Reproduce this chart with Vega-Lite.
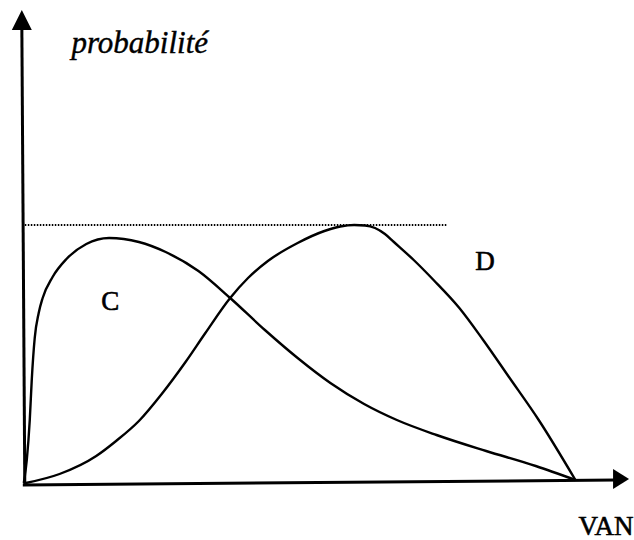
{
  "$schema": "https://vega.github.io/schema/vega-lite/v6.json",
  "width": 634,
  "height": 540,
  "padding": 0,
  "autosize": {"type": "fit", "contains": "padding"},
  "background": "white",
  "config": {"view": {"stroke": null}},
  "datasets": {
    "curves": [
      {"courbe": "C", "i": 0, "van": 1, "p": 0},
      {"courbe": "C", "i": 1, "van": 4, "p": 23},
      {"courbe": "C", "i": 2, "van": 7, "p": 63},
      {"courbe": "C", "i": 3, "van": 9, "p": 103},
      {"courbe": "C", "i": 4, "van": 12, "p": 145},
      {"courbe": "C", "i": 5, "van": 16, "p": 170},
      {"courbe": "C", "i": 6, "van": 20, "p": 185},
      {"courbe": "C", "i": 7, "van": 30, "p": 206},
      {"courbe": "C", "i": 8, "van": 44, "p": 224},
      {"courbe": "C", "i": 9, "van": 64, "p": 239},
      {"courbe": "C", "i": 10, "van": 87, "p": 245},
      {"courbe": "C", "i": 11, "van": 117, "p": 241},
      {"courbe": "C", "i": 12, "van": 144, "p": 231},
      {"courbe": "C", "i": 13, "van": 177, "p": 212},
      {"courbe": "C", "i": 14, "van": 209, "p": 185},
      {"courbe": "C", "i": 15, "van": 244, "p": 153},
      {"courbe": "C", "i": 16, "van": 277, "p": 125},
      {"courbe": "C", "i": 17, "van": 310, "p": 100},
      {"courbe": "C", "i": 18, "van": 344, "p": 79},
      {"courbe": "C", "i": 19, "van": 377, "p": 63},
      {"courbe": "C", "i": 20, "van": 417, "p": 48},
      {"courbe": "C", "i": 21, "van": 467, "p": 32},
      {"courbe": "C", "i": 22, "van": 517, "p": 17},
      {"courbe": "C", "i": 23, "van": 557, "p": 3},
      {"courbe": "D", "i": 0, "van": 3, "p": 0},
      {"courbe": "D", "i": 1, "van": 37, "p": 9},
      {"courbe": "D", "i": 2, "van": 74, "p": 27},
      {"courbe": "D", "i": 3, "van": 94, "p": 42},
      {"courbe": "D", "i": 4, "van": 117, "p": 62},
      {"courbe": "D", "i": 5, "van": 140, "p": 89},
      {"courbe": "D", "i": 6, "van": 164, "p": 121},
      {"courbe": "D", "i": 7, "van": 184, "p": 150},
      {"courbe": "D", "i": 8, "van": 209, "p": 185},
      {"courbe": "D", "i": 9, "van": 227, "p": 205},
      {"courbe": "D", "i": 10, "van": 247, "p": 222},
      {"courbe": "D", "i": 11, "van": 277, "p": 240},
      {"courbe": "D", "i": 12, "van": 304, "p": 252},
      {"courbe": "D", "i": 13, "van": 320, "p": 256.5},
      {"courbe": "D", "i": 14, "van": 334, "p": 258},
      {"courbe": "D", "i": 15, "van": 345, "p": 257.5},
      {"courbe": "D", "i": 16, "van": 355, "p": 255},
      {"courbe": "D", "i": 17, "van": 365, "p": 249},
      {"courbe": "D", "i": 18, "van": 374, "p": 241},
      {"courbe": "D", "i": 19, "van": 394, "p": 223},
      {"courbe": "D", "i": 20, "van": 414, "p": 203},
      {"courbe": "D", "i": 21, "van": 440, "p": 175},
      {"courbe": "D", "i": 22, "van": 464, "p": 143},
      {"courbe": "D", "i": 23, "van": 490, "p": 106},
      {"courbe": "D", "i": 24, "van": 520, "p": 63},
      {"courbe": "D", "i": 25, "van": 557, "p": 3}
    ],
    "axes": [
      {"name": "x", "x1": 0, "x2": 598, "y1": -2, "y2": 3},
      {"name": "y", "x1": 2, "x2": -1, "y1": -2, "y2": 458}
    ],
    "heads": [
      {"name": "x", "x": 603, "y": 4, "shape": "M0.8,0L-0.8,-1L-0.8,1Z"},
      {"name": "y", "x": -1, "y": 463, "shape": "M0,-1L-1,1L1,1Z"}
    ],
    "dotted": [
      {"x1": 2, "x2": 427, "y": 258}
    ],
    "labels": [
      {"label": "C", "x": 79, "y": 173},
      {"label": "D", "x": 456, "y": 213},
      {"label": "VAN", "x": 560, "y": -52}
    ],
    "title": [
      {"label": "probabilité", "x": 49, "y": 430}
    ]
  },
  "layer": [
    {
      "data": {"name": "dotted"},
      "mark": {"type": "rule", "strokeDash": [1.5, 1.5], "strokeWidth": 1.8, "color": "#000"},
      "encoding": {
        "x": {"field": "x1", "type": "quantitative", "scale": {"domain": [-23, 611], "nice": false, "zero": false}, "axis": null},
        "x2": {"field": "x2"},
        "y": {"field": "y", "type": "quantitative", "scale": {"domain": [-57, 483], "nice": false, "zero": false}, "axis": null}
      }
    },
    {
      "data": {"name": "axes"},
      "mark": {"type": "rule", "strokeWidth": 3, "color": "#000"},
      "encoding": {
        "x": {"field": "x1", "type": "quantitative"},
        "x2": {"field": "x2"},
        "y": {"field": "y1", "type": "quantitative"},
        "y2": {"field": "y2"}
      }
    },
    {
      "data": {"name": "heads"},
      "mark": {"type": "point", "filled": true, "color": "#000", "opacity": 1, "size": 400},
      "encoding": {
        "x": {"field": "x", "type": "quantitative"},
        "y": {"field": "y", "type": "quantitative"},
        "shape": {"field": "shape", "type": "nominal", "scale": null, "legend": null}
      }
    },
    {
      "data": {"name": "curves"},
      "mark": {"type": "line", "interpolate": "monotone", "strokeWidth": 2.4, "color": "#000"},
      "encoding": {
        "x": {"field": "van", "type": "quantitative"},
        "y": {"field": "p", "type": "quantitative"},
        "detail": {"field": "courbe", "type": "nominal"},
        "order": {"field": "i", "type": "quantitative"}
      }
    },
    {
      "data": {"name": "labels"},
      "mark": {"type": "text", "font": "Liberation Serif", "fontSize": 27, "align": "left", "baseline": "alphabetic", "color": "#000", "stroke": "#000", "strokeWidth": 0.6},
      "encoding": {
        "x": {"field": "x", "type": "quantitative"},
        "y": {"field": "y", "type": "quantitative"},
        "text": {"field": "label", "type": "nominal"}
      }
    },
    {
      "data": {"name": "title"},
      "mark": {"type": "text", "font": "Liberation Serif", "fontStyle": "italic", "fontSize": 31, "align": "left", "baseline": "alphabetic", "color": "#000", "stroke": "#000", "strokeWidth": 0.4},
      "encoding": {
        "x": {"field": "x", "type": "quantitative"},
        "y": {"field": "y", "type": "quantitative"},
        "text": {"field": "label", "type": "nominal"}
      }
    }
  ]
}
